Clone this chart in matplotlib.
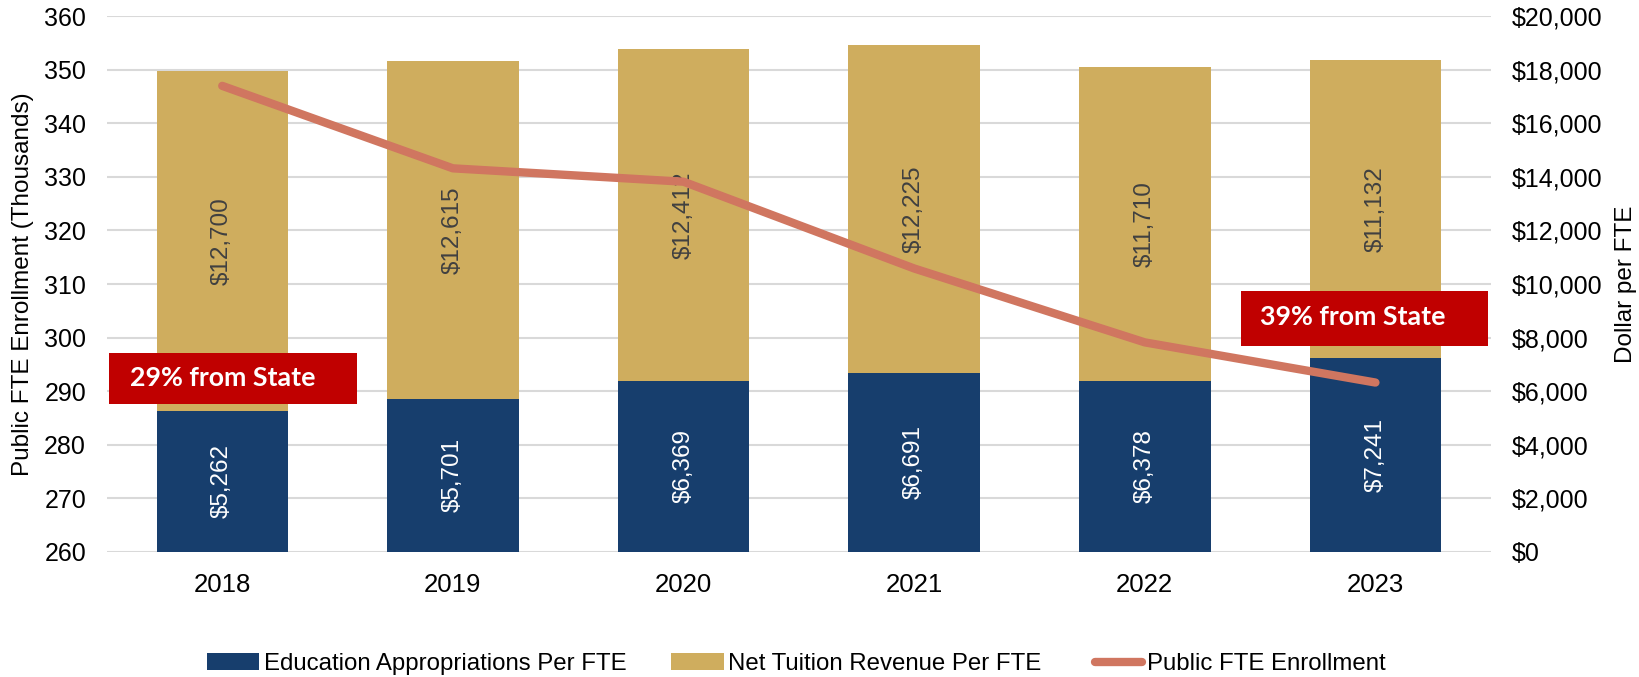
import matplotlib
matplotlib.use("Agg")
import matplotlib.pyplot as plt
from matplotlib.patches import Rectangle, Patch
from matplotlib.lines import Line2D
from matplotlib.ticker import FuncFormatter, MultipleLocator
import numpy as np

plt.rcParams['font.family'] = ['Liberation Sans', 'DejaVu Sans']

years = ["2018", "2019", "2020", "2021", "2022", "2023"]
appropriations = [5262, 5701, 6369, 6691, 6378, 7241]
tuition = [12700, 12615, 12412, 12225, 11710, 11132]
enrollment = [347.0, 331.6, 329.1, 312.9, 299.1, 291.6]
notes = ["29% from State", "39% from State"]

NAVY = "#173E6D"
GOLD = "#CFAD5E"
LINE = "#D07660"
RED = "#C00000"
GRID = "#D9D9D9"

fig = plt.figure(figsize=(16.4, 6.77), dpi=100)
ax = fig.add_axes([0.0652, 0.185, 0.8438, 0.791])
ax2 = ax.twinx()
x = np.arange(len(years))

ax.bar(x, appropriations, width=0.57, color=NAVY, zorder=2)
ax.bar(x, tuition, width=0.57, bottom=appropriations, color=GOLD, zorder=2)
for xi, a, t in zip(x, appropriations, tuition):
    ax.text(xi, a / 2, f"${a:,}", rotation=90, ha='center', va='center',
            color='white', fontsize=17.5, zorder=3)
    ax.text(xi, a + t / 2, f"${t:,}", rotation=90, ha='center', va='center',
            color='#404040', fontsize=17.5, zorder=3)

ax.set_ylim(0, 20000)
ax.set_xlim(-0.5, len(years) - 0.5)
ax.yaxis.set_major_locator(MultipleLocator(2000))
ax.yaxis.set_major_formatter(FuncFormatter(lambda v, p: f"${v:,.0f}"))
ax.grid(axis='y', color=GRID, linewidth=1.5, zorder=0)
ax.set_axisbelow(True)
ax.set_xticks(x)
ax.set_xticklabels(years)
for s in ax.spines.values():
    s.set_visible(False)

ax2.plot(x, enrollment, color=LINE, linewidth=6, solid_capstyle='round',
         solid_joinstyle='round', zorder=3)
ax2.set_ylim(260, 360)
ax2.yaxis.set_major_locator(MultipleLocator(10))
for s in ax2.spines.values():
    s.set_visible(False)

# tick sides: dollars right, enrollment left
ax.yaxis.tick_right()
ax.yaxis.set_label_position('right')
ax2.yaxis.tick_left()
ax2.yaxis.set_label_position('left')
ax.set_ylabel("Dollar per FTE", fontsize=17.5, labelpad=9)
ax2.set_ylabel("Public FTE Enrollment (Thousands)", fontsize=17.5, labelpad=7)
ax.tick_params(axis='both', length=0, labelsize=18)
ax.tick_params(axis='x', pad=15, labelsize=18.5)
ax.tick_params(axis='y', pad=15)
ax2.tick_params(axis='y', length=0, labelsize=18, pad=15)

# annotation boxes
boxes = [(-0.492, 287.63, 1.075, 9.52, -0.40, 292.4),
         (4.415, 298.45, 1.075, 10.22, 4.50, 303.8)]
for (bx, by, bw, bh, tx, ty), note in zip(boxes, notes):
    ax2.add_patch(Rectangle((bx, by), bw, bh, facecolor=RED, edgecolor='none',
                            zorder=5, clip_on=False))
    ax2.text(tx, ty, note, color='white', fontsize=19.3, fontweight='bold',
             family=['Lato', 'DejaVu Sans'], ha='left', va='center', zorder=6)

handles = [Patch(facecolor=NAVY), Patch(facecolor=GOLD),
           Line2D([0], [0], color=LINE, linewidth=6, solid_capstyle='round')]
labels = ["Education Appropriations Per FTE", "Net Tuition Revenue Per FTE",
          "Public FTE Enrollment"]
legend_x = [0.1262, 0.4094, 0.6677]
hlens = [2.17, 2.17, 1.95]
for h, lab, lx, hl in zip(handles, labels, legend_x, hlens):
    fig.legend([h], [lab], loc='center left', bbox_to_anchor=(lx, 0.019),
               frameon=False, fontsize=17.3, handlelength=hl,
               handleheight=0.72, handletextpad=0.2, borderpad=0,
               borderaxespad=0)

fig.savefig("out.png", dpi=100)
